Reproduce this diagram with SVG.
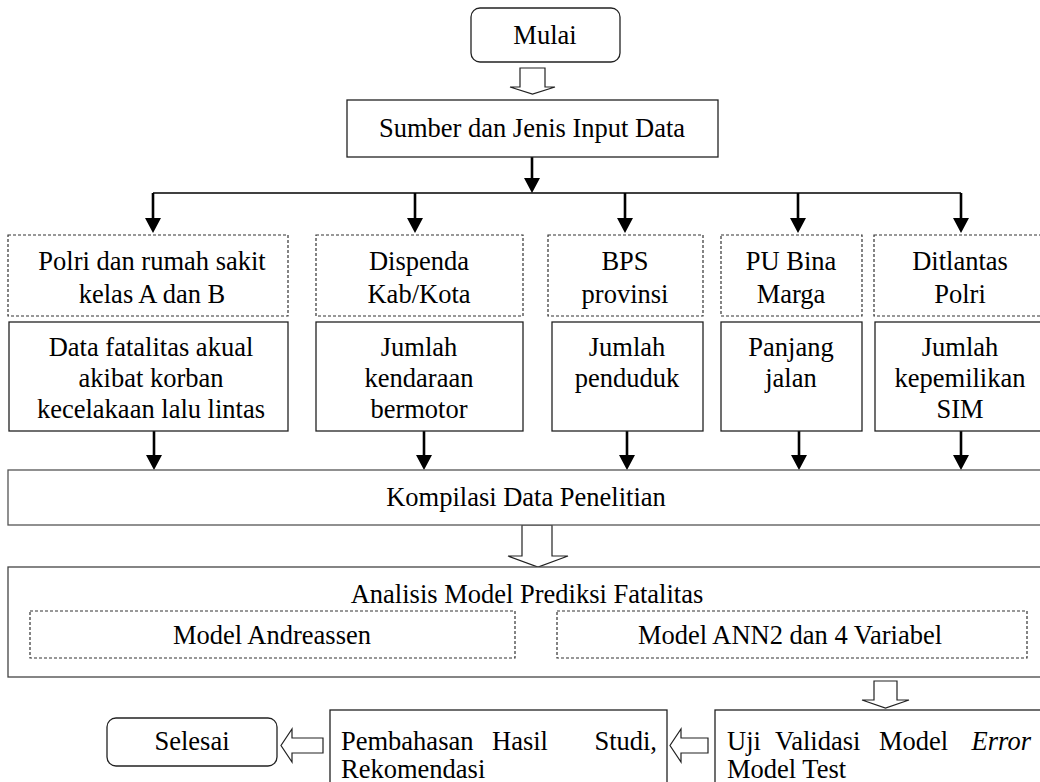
<svg xmlns="http://www.w3.org/2000/svg" width="1040" height="782" viewBox="0 0 1040 782" font-family="'Liberation Serif', 'DejaVu Serif', serif">
<style>
text{font-family:'Liberation Serif','DejaVu Serif',serif;font-size:26.5px;fill:#000}
.c{text-anchor:middle}
.box{fill:#fff;stroke:#222;stroke-width:1.3}
.dash{fill:#fff;stroke:#333;stroke-width:1.2;stroke-dasharray:3 2}
.hollow{fill:#fff;stroke:#222;stroke-width:1.2;stroke-linejoin:miter}
.conn{stroke:#000;stroke-width:2.6;fill:none}
.hline{stroke:#000;stroke-width:1.6;fill:none}
</style>
<rect width="1040" height="782" fill="#fff"/>

<g id="connectors">
<line class="conn" x1="532" y1="157" x2="532" y2="178"/>
<path d="M524,178 L540,178 L532,193 Z"/>
<line class="hline" x1="153" y1="193" x2="961" y2="193"/>
<line class="conn" x1="153" y1="193" x2="153" y2="218"/>
<path d="M145,218 L161,218 L153,233 Z"/>
<line class="conn" x1="415" y1="193" x2="415" y2="218"/>
<path d="M407,218 L423,218 L415,233 Z"/>
<line class="conn" x1="625" y1="193" x2="625" y2="218"/>
<path d="M617,218 L633,218 L625,233 Z"/>
<line class="conn" x1="798" y1="193" x2="798" y2="218"/>
<path d="M790,218 L806,218 L798,233 Z"/>
<line class="conn" x1="961" y1="193" x2="961" y2="218"/>
<path d="M953,218 L969,218 L961,233 Z"/>

<line class="conn" x1="154" y1="431" x2="154" y2="455"/>
<path d="M146,455 L162,455 L154,470 Z"/>
<line class="conn" x1="424" y1="431" x2="424" y2="455"/>
<path d="M416,455 L432,455 L424,470 Z"/>
<line class="conn" x1="627" y1="431" x2="627" y2="455"/>
<path d="M619,455 L635,455 L627,470 Z"/>
<line class="conn" x1="799" y1="431" x2="799" y2="455"/>
<path d="M791,455 L807,455 L799,470 Z"/>
<line class="conn" x1="961" y1="431" x2="961" y2="455"/>
<path d="M953,455 L969,455 L961,470 Z"/>

<polygon class="hollow" points="520,68 545,68 545,87 555,87 532.5,94 510,87 520,87"/>
<polygon class="hollow" points="522,525 552,525 552,556 568,556 538,567 508,556 522,556"/>
<polygon class="hollow" points="874,681 897,681 897,700 909,700 885.5,708 862,700 874,700"/>
<polygon class="hollow" points="708,738 708,753 681,753 681,762 670,745.5 681,729 681,738"/>
<polygon class="hollow" points="323,738 323,753 292,753 292,762 281,745.5 292,729 292,738"/>
</g>

<g id="mulai">
<rect class="box" x="471" y="8" width="149" height="54" rx="9"/>
<text class="c" x="545" y="44">Mulai</text>
</g>

<g id="sumber">
<rect class="box" x="347" y="100" width="371" height="57"/>
<text class="c" x="532" y="137">Sumber dan Jenis Input Data</text>
</g>

<g id="src1">
<rect class="dash" x="8" y="235" width="280" height="81"/>
<text class="c" x="152" y="270">Polri dan rumah sakit</text>
<text class="c" x="152" y="303">kelas A dan B</text>
</g>
<g id="src2">
<rect class="dash" x="316" y="235" width="207" height="81"/>
<text class="c" x="419" y="270">Dispenda</text>
<text class="c" x="419" y="303">Kab/Kota</text>
</g>
<g id="src3">
<rect class="dash" x="548" y="235" width="155" height="81"/>
<text class="c" x="625" y="270">BPS</text>
<text class="c" x="625" y="303">provinsi</text>
</g>
<g id="src4">
<rect class="dash" x="721" y="235" width="141" height="81"/>
<text class="c" x="791" y="270">PU Bina</text>
<text class="c" x="791" y="303">Marga</text>
</g>
<g id="src5">
<rect class="dash" x="874" y="235" width="180" height="81"/>
<text class="c" x="960" y="270">Ditlantas</text>
<text class="c" x="960" y="303">Polri</text>
</g>

<g id="data1">
<rect class="box" x="9" y="322" width="279" height="109"/>
<text class="c" x="151" y="356">Data fatalitas akual</text>
<text class="c" x="151" y="387">akibat korban</text>
<text class="c" x="151" y="418">kecelakaan lalu lintas</text>
</g>
<g id="data2">
<rect class="box" x="316" y="322" width="207" height="109"/>
<text class="c" x="419" y="356">Jumlah</text>
<text class="c" x="419" y="387">kendaraan</text>
<text class="c" x="419" y="418">bermotor</text>
</g>
<g id="data3">
<rect class="box" x="552" y="322" width="151" height="109"/>
<text class="c" x="627" y="356">Jumlah</text>
<text class="c" x="627" y="387">penduduk</text>
</g>
<g id="data4">
<rect class="box" x="721" y="322" width="141" height="109"/>
<text class="c" x="791" y="356">Panjang</text>
<text class="c" x="791" y="387">jalan</text>
</g>
<g id="data5">
<rect class="box" x="875" y="322" width="180" height="109"/>
<text class="c" x="960" y="356">Jumlah</text>
<text class="c" x="960" y="387">kepemilikan</text>
<text class="c" x="960" y="418">SIM</text>
</g>

<g id="kompilasi">
<rect class="box" x="8" y="470" width="1040" height="55" style="stroke:#555"/>
<text class="c" x="526" y="506">Kompilasi Data Penelitian</text>
</g>

<g id="analisis">
<rect class="box" x="8" y="567" width="1040" height="110" style="stroke:#444"/>
<text class="c" x="527" y="603">Analisis Model Prediksi Fatalitas</text>
<g id="andreassen">
<rect class="dash" x="30" y="611" width="485" height="47"/>
<text class="c" x="272" y="644">Model Andreassen</text>
</g>
<g id="ann2">
<rect class="dash" x="557" y="611" width="470" height="47"/>
<text class="c" x="790" y="644">Model ANN2 dan 4 Variabel</text>
</g>
</g>

<g id="uji">
<rect class="box" x="715" y="710" width="340" height="90"/>
<text x="727" y="750">Uji</text>
<text x="775" y="750">Validasi</text>
<text x="879" y="750">Model</text>
<text x="1031" y="750" text-anchor="end" font-style="italic">Error</text>
<text x="727" y="778">Model Test</text>
</g>

<g id="pembahasan">
<rect class="box" x="330" y="710" width="337" height="90"/>
<text x="341" y="750">Pembahasan</text>
<text x="492" y="750">Hasil</text>
<text x="657" y="750" text-anchor="end">Studi,</text>
<text x="341" y="778">Rekomendasi</text>
</g>

<g id="selesai">
<rect class="box" x="107" y="718" width="170" height="48" rx="9"/>
<text class="c" x="192" y="750">Selesai</text>
</g>
</svg>
